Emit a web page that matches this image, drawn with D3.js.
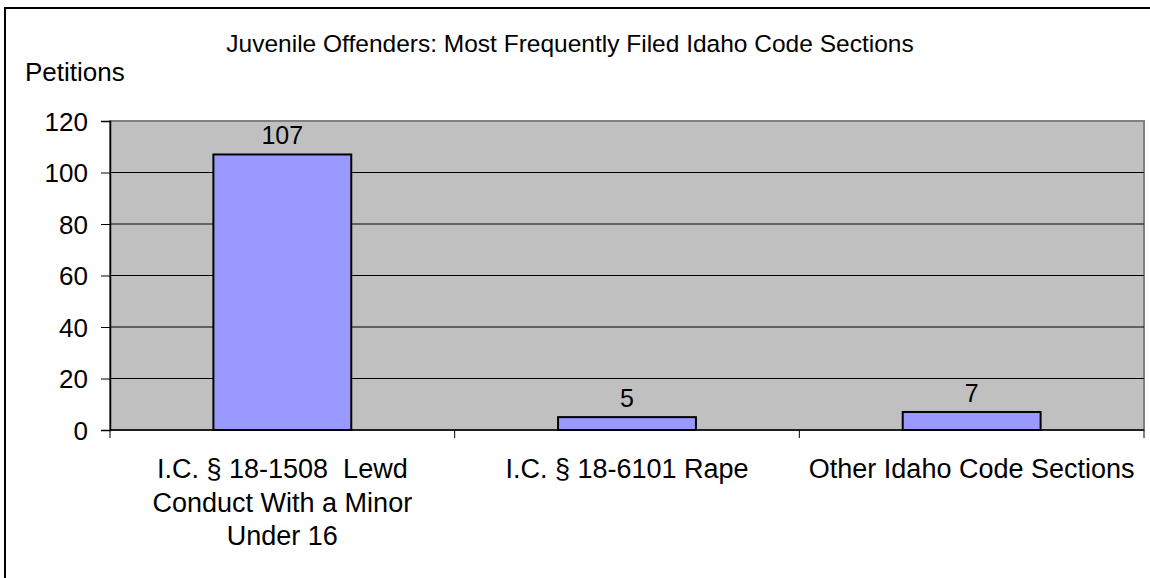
<!DOCTYPE html>
<html>
<head>
<meta charset="utf-8">
<script src="https://cdn.jsdelivr.net/npm/d3@7"></script>
<style>
  body { margin: 0; background: #fff; }
  text { font-family: "Liberation Sans", Arial, sans-serif; fill: #000; }
</style>
</head>
<body>
<script>
var categories = ["I.C. § 18-1508  Lewd\nConduct With a Minor\nUnder 16", "I.C. § 18-6101 Rape", "Other Idaho Code Sections"];
var petitions = [107, 5, 7];
var yTicks = [0, 20, 40, 60, 80, 100, 120];

var W = 1150, H = 578;
var margin = { top: 121, right: 6, bottom: 148, left: 110 },
  width = W - margin.left - margin.right,
  height = H - margin.top - margin.bottom;

var svg = d3.select("body").append("svg")
  .attr("width", W)
  .attr("height", H);

// outer chart frame (runs off the right and bottom edges)
svg.append("rect")
  .attr("x", 5).attr("y", 8)
  .attr("width", 1300).attr("height", 700)
  .attr("fill", "none").attr("stroke", "#000").attr("stroke-width", 2);

var g = svg.append("g")
  .attr("transform", "translate(" + margin.left + "," + margin.top + ")");

var x = d3.scaleBand().domain(categories).range([0, width]).paddingInner(0.6).paddingOuter(0.3);
var band = d3.scaleBand().domain(categories).range([0, width]);
var y = d3.scaleLinear().domain([0, 120]).range([height, 0]);

// plot area
g.append("rect")
  .attr("width", width).attr("height", height)
  .attr("fill", "#c0c0c0").attr("stroke", "#808080").attr("stroke-width", 2);

// gridlines
g.selectAll(".grid")
  .data(yTicks.filter(function (d) { return d > 0 && d < 120; }))
  .enter().append("line")
  .attr("x1", 0).attr("x2", width)
  .attr("y1", function (d) { return y(d); })
  .attr("y2", function (d) { return y(d); })
  .attr("stroke", "#000").attr("stroke-width", 1.2);

// y axis
var yAxis = g.append("g")
  .call(d3.axisLeft(y).tickValues(yTicks).tickSize(9).tickPadding(13));
yAxis.select(".domain").attr("stroke", "#000").attr("stroke-width", 1.5);
yAxis.selectAll("text").style("font-size", "26px").attr("dy", "0.36em");

// x axis
var xAxis = g.append("g").attr("transform", "translate(0," + height + ")");
xAxis.append("line").attr("x1", 0).attr("x2", width).attr("stroke", "#000").attr("stroke-width", 1.5);
xAxis.selectAll(".tk")
  .data(d3.range(categories.length + 1))
  .enter().append("line")
  .attr("x1", function (i) { return i * band.step(); })
  .attr("x2", function (i) { return i * band.step(); })
  .attr("y1", 0).attr("y2", 8)
  .attr("stroke", "#000");

var lab = xAxis.selectAll(".cat")
  .data(categories)
  .enter().append("text")
  .attr("text-anchor", "middle")
  .style("font-size", "27px")
  .style("white-space", "pre")
  .attr("transform", function (d) { return "translate(" + (band(d) + band.bandwidth() / 2) + ",48)"; });
lab.selectAll("tspan")
  .data(function (d) { return d.split("\n"); })
  .enter().append("tspan")
  .attr("x", 0)
  .attr("dy", function (d, i) { return i === 0 ? 0 : 33.7; })
  .text(function (d) { return d; });

// bars
g.selectAll(".bar")
  .data(petitions)
  .enter().append("rect")
  .attr("x", function (d, i) { return x(categories[i]); })
  .attr("width", x.bandwidth())
  .attr("y", function (d) { return y(d); })
  .attr("height", function (d) { return height - y(d); })
  .attr("fill", "#9999ff").attr("stroke", "#000").attr("stroke-width", 2);

g.selectAll(".val")
  .data(petitions)
  .enter().append("text")
  .attr("text-anchor", "middle")
  .style("font-size", "25px")
  .attr("x", function (d, i) { return x(categories[i]) + x.bandwidth() / 2; })
  .attr("y", function (d) { return y(d) - 10; })
  .text(function (d) { return d; });

svg.append("text")
  .attr("x", 570).attr("y", 52)
  .attr("text-anchor", "middle")
  .style("font-size", "24.5px")
  .text("Juvenile Offenders: Most Frequently Filed Idaho Code Sections");

svg.append("text")
  .attr("x", 25).attr("y", 81)
  .style("font-size", "26px")
  .text("Petitions");
</script>
</body>
</html>
